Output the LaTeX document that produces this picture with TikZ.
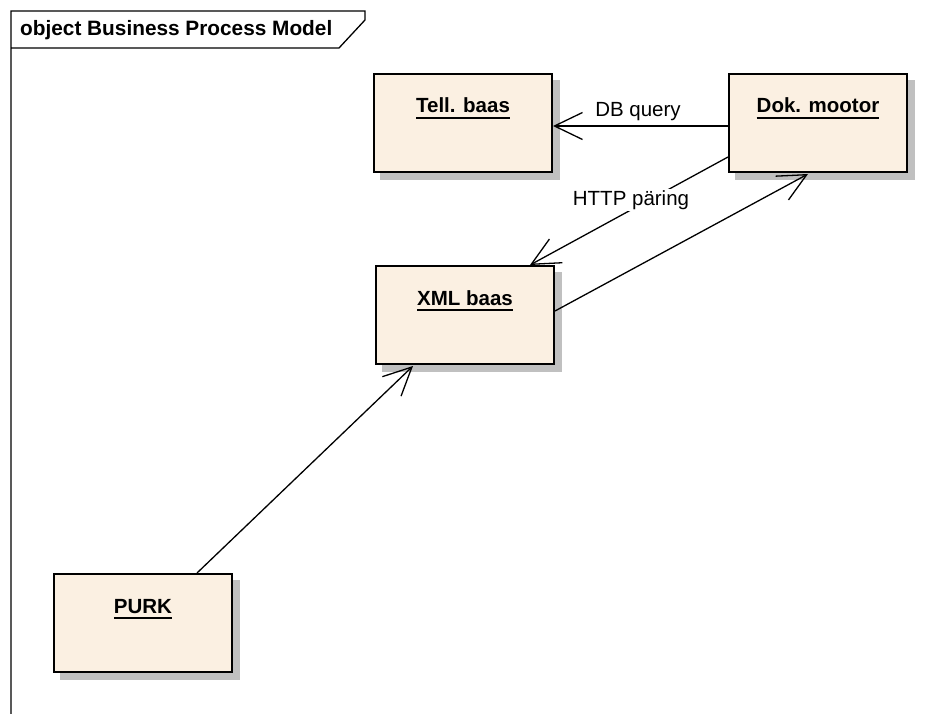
\documentclass[tikz,border=0pt]{standalone}
\usepackage{fontspec}
\setmainfont{Liberation Sans}
\usetikzlibrary{arrows.meta,calc}
\definecolor{objfill}{RGB}{251,240,226}
\definecolor{objshadow}{RGB}{192,192,192}
% bold object name with a thick underline
\newcommand\objname[1]{\vtop{\hbox{\bfseries #1}\kern3.5pt\hrule height 2pt}}
\begin{document}
\begin{tikzpicture}[x=1pt,y=-1pt,
  objbox/.style={draw=black, line width=2pt, fill=objfill,
    minimum width=178pt, minimum height=98pt, inner sep=0pt},
  objshade/.style={fill=objshadow, minimum width=180pt, minimum height=100pt, inner sep=0pt},
  objlabel/.style={anchor=base, inner sep=0pt, font=\fontsize{20.5}{24}\selectfont},
  conn/.style={line width=1.3pt, -{Straight Barb[length=28pt,width=27pt,line width=1.3pt]}},
  connlabel/.style={anchor=base, font=\fontsize{20.5}{24}\selectfont, fill=white, inner sep=1.5pt},
]
\useasboundingbox (0,0) rectangle (942,714);

% diagram frame with its name tag
\draw[line width=1.3pt] (11,714) -- (11,11) -- (365,11) -- (365,20) -- (339,48) -- (11,48);
\node[anchor=base west, inner sep=0pt, font=\fontsize{20.8}{24}\selectfont\bfseries] (title) at (20,36) {object Business Process Model};

% shadows
\node[objshade] (tell-sh) at (470,130) {};
\node[objshade] (dok-sh)  at (825,130) {};
\node[objshade] (xml-sh)  at (472,322) {};
\node[objshade] (purk-sh) at (150,630) {};

% objects
\node[objbox] (tell) at (463,123) {};
\node[objbox] (dok)  at (818,123) {};
\node[objbox] (xml)  at (465,315) {};
\node[objbox] (purk) at (143,623) {};

\node[objlabel] (tell-name) at ($(tell.north)+(0,40)$) {\objname{Tell. baas}};
\node[objlabel] (dok-name)  at ($(dok.north)+(0,40)$)  {\objname{Dok. mootor}};
\node[objlabel] (xml-name)  at ($(xml.north)+(0,40)$)  {\objname{XML baas}};
\node[objlabel] (purk-name) at ($(purk.north)+(0,40)$) {\objname{PURK}};

% connectors
\draw[conn] ($(dok.west)+(0,3)$) -- ($(tell.east)+(0,3)$);
\node[connlabel] (dbq) at (638,117) {DB query};

\draw[conn] ($(dok.west)+(0,34)$) -- ($(xml.north)+(65,0)$);
\node[connlabel] (http) at (631,205) {HTTP päring};

\draw[conn] ($(xml.east)+(0,-4)$) -- ($(dok.south)+(-10,1)$);
\draw[conn] ($(purk.north)+(54,0)$) -- ($(xml.south)+(-52,1)$);
\end{tikzpicture}
\end{document}
